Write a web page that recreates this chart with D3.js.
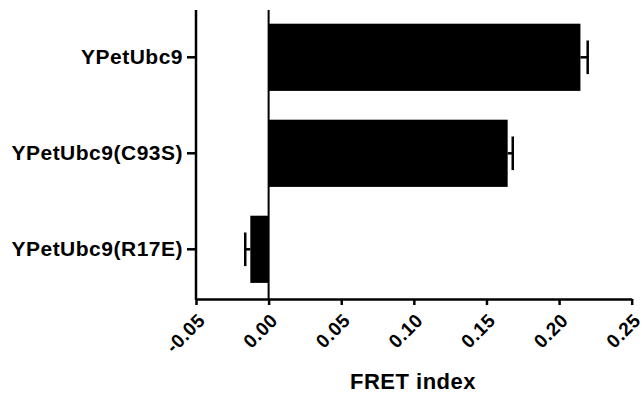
<!DOCTYPE html>
<html><head><meta charset="utf-8">
<script src="https://cdn.jsdelivr.net/npm/d3@7"></script>
<style>body{margin:0;background:#fff}svg{display:block}</style>
</head><body>
<svg id="c" width="642" height="396"></svg>
<script>
const categories = ["YPetUbc9", "YPetUbc9(C93S)", "YPetUbc9(R17E)"];
const values = [0.2147, 0.1646, -0.0126];
const errors = [0.0050, 0.0035, 0.0035];
const xTicks = [-0.05, 0.00, 0.05, 0.10, 0.15, 0.20, 0.25];
const xTitle = "FRET index";

const svg = d3.select("#c");
const font = "'Liberation Sans', Arial, sans-serif";
const x = d3.scaleLinear().domain([-0.05, 0.25]).range([196, 631.7]);
const y = d3.scaleBand().domain(categories).range([9.3, 297.3]).paddingInner(0.3).paddingOuter(0.15);
const axisY = 299;

// bars
svg.selectAll("rect.bar").data(values).join("rect")
  .attr("x", d => x(Math.min(0, d)))
  .attr("width", d => Math.abs(x(d) - x(0)))
  .attr("y", (d, i) => y(categories[i]))
  .attr("height", y.bandwidth())
  .attr("fill", "#000");

// error bars (outward only)
const eg = svg.append("g").attr("stroke", "#000").attr("stroke-width", 2.5);
values.forEach((v, i) => {
  const cy = y(categories[i]) + y.bandwidth() / 2;
  const e = v >= 0 ? v + errors[i] : v - errors[i];
  eg.append("line").attr("x1", x(v)).attr("x2", x(e)).attr("y1", cy).attr("y2", cy);
  eg.append("line").attr("x1", x(e)).attr("x2", x(e)).attr("y1", cy - y.bandwidth() / 4).attr("y2", cy + y.bandwidth() / 4);
});

// zero line
svg.append("line").attr("x1", x(0)).attr("x2", x(0)).attr("y1", 10).attr("y2", axisY)
  .attr("stroke", "#000").attr("stroke-width", 2);

// x axis
const fmt = d3.format(".2f");
const xa = svg.append("g").attr("transform", `translate(0,${axisY})`)
  .call(d3.axisBottom(x).tickValues(xTicks).tickSize(6).tickSizeOuter(0)
    .tickFormat(d => fmt(d).replace("\u2212", "-")));
xa.select(".domain").attr("stroke-width", 2.5);
xa.selectAll(".tick line").attr("stroke-width", 2.5);
xa.selectAll(".tick text")
  .attr("font-family", font).attr("font-size", 19).attr("font-weight", "bold").attr("fill", "#000")
  .attr("letter-spacing", 0.5)
  .attr("text-anchor", "end").attr("dy", "0.35em").attr("y", 0)
  .attr("transform", "translate(5,18) rotate(-45)");

// y axis
const ya = svg.append("g").attr("transform", "translate(196,0)")
  .call(d3.axisLeft(y).tickSize(9).tickSizeOuter(0).tickPadding(4));
ya.select(".domain").attr("d", `M0,10V${axisY + 1}`).attr("stroke-width", 2.5);
ya.selectAll(".tick line").attr("stroke-width", 2.5);
ya.selectAll(".tick text")
  .attr("font-family", font).attr("font-size", 21).attr("font-weight", "bold").attr("fill", "#000")
  .attr("letter-spacing", 0.5);

// x title
svg.append("text").attr("x", 413).attr("y", 389).attr("text-anchor", "middle")
  .attr("font-family", font).attr("font-size", 22).attr("font-weight", "bold").attr("fill", "#000")
  .attr("letter-spacing", 0.5)
  .text(xTitle);
</script>
</body></html>
